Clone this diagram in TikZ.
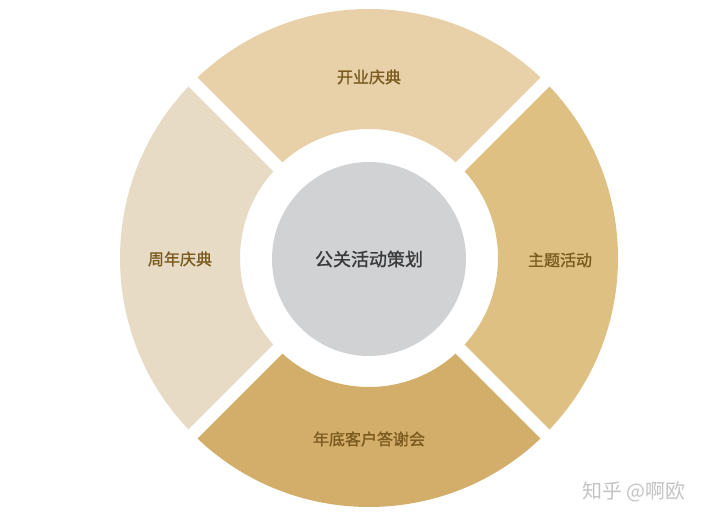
\documentclass[tikz,border=0pt]{standalone}
\usepackage{fontspec}
\usetikzlibrary{calc}
\newfontfamily\cjk{Noto Sans CJK SC}
\newfontfamily\cjkb{Noto Sans CJK SC}[FakeBold=1.2]
\definecolor{topc}{HTML}{E8D0A9}
\definecolor{leftc}{HTML}{E7DBC6}
\definecolor{rightc}{HTML}{DEC083}
\definecolor{botc}{HTML}{D3AE6B}
\definecolor{labc}{HTML}{7A5A1E}
\definecolor{midc}{HTML}{D1D2D4}
\definecolor{midt}{HTML}{3A3A3A}
\definecolor{wmc}{HTML}{C4C4C4}
\tikzset{
  seglabel/.style={font=\cjkb\fontsize{16}{19}\selectfont, text=labc, inner sep=0pt},
  gapline/.style={white, line width=12.5pt},
}
\newcommand\annseg[3]{% color, start, end
  \fill[#1] ($(c)+(#2:\Ro)$) arc[start angle=#2,end angle=#3,radius=\Ro]
    -- ($(c)+(#3:\Ri)$) arc[start angle=#3,end angle=#2,radius=\Ri] -- cycle;}
\begin{document}
\begin{tikzpicture}[x=1pt,y=1pt]
\fill[white] (0,0) rectangle (710,525);
\useasboundingbox (0,0) rectangle (710,525);
\coordinate (c) at (369,267);
\def\Ro{249}
\def\Ri{129}
\annseg{topc}{45}{135}
\annseg{leftc}{135}{225}
\annseg{botc}{225}{315}
\annseg{rightc}{-45}{45}
\foreach \a in {45,135,225,315}{
  \coordinate (g\a) at ($(c)+(\a:262)$);
  \draw[gapline] (c) -- (g\a);
}
\node[circle, fill=midc, minimum size=194pt, inner sep=0pt] (mid) at (369,266) {};
\node[font=\cjkb\fontsize{18}{21}\selectfont, text=midt, inner sep=0pt] (midl) at (mid) {公关活动策划};
\node[seglabel] (ltop) at (369,448) {开业庆典};
\node[seglabel] (lright) at (560,265) {主题活动};
\node[seglabel] (lleft) at (180,266) {周年庆典};
\node[seglabel] (lbot) at (369,86) {年底客户答谢会};
\node[font=\cjk\fontsize{20}{23}\selectfont, text=wmc, inner sep=0pt] (wm) at (634,33) {知乎 @啊欧};
\end{tikzpicture}
\end{document}
